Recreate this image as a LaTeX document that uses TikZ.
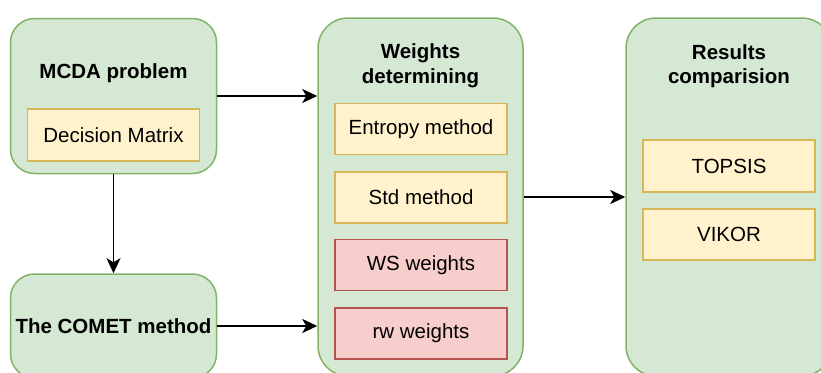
\documentclass[tikz,border=0pt]{standalone}
\usepackage{fontspec}
\setmainfont{Liberation Sans}
\usetikzlibrary{arrows.meta}
\definecolor{gfill}{HTML}{D5E8D4}
\definecolor{gline}{HTML}{82B366}
\definecolor{yfill}{HTML}{FFF2CC}
\definecolor{yline}{HTML}{D6B656}
\definecolor{rfill}{HTML}{F8CECC}
\definecolor{rline}{HTML}{B85450}
\tikzset{
  group/.style={draw=gline, fill=gfill, line width=1.5pt, rounded corners=#1, inner sep=0pt},
  item/.style={draw=yline, fill=yfill, line width=1.5pt, minimum width=172pt, minimum height=51pt, inner sep=0pt, font=\fontsize{20.5}{24.6}\selectfont},
  ritem/.style={item, draw=rline, fill=rfill},
  ttl/.style={font=\fontsize{20.5}{24.6}\selectfont\bfseries, align=center, inner sep=0pt},
  conn/.style={line width=1.7pt, -{Stealth[length=15pt,width=14pt,inset=4pt]}}
}
\begin{document}
\begin{tikzpicture}[x=1pt,y=-1pt]
\useasboundingbox (0,0) rectangle (821,372);
\clip (0,0) rectangle (821,372);
% groups
\node[group=24pt, minimum width=206pt, minimum height=155pt] (mcda) at (113.5,96) {};
\node[group=24pt, minimum width=206pt, minimum height=104pt] (comet) at (113.5,326) {};
\node[group=30pt, minimum width=205pt, minimum height=358pt] (weights) at (420.5,197) {};
\node[group=30pt, minimum width=206pt, minimum height=358pt] (results) at (729,197) {};
% titles
\node[ttl] (mcdat) at (113.5,73) {MCDA problem};
\node[ttl] (comett) at (113.5,326) {The COMET method};
\node[ttl] (weightst) at (420.5,66) {Weights\\determining};
\node[ttl] (resultst) at (729,66) {Results\\comparision};
% items
\node[item, minimum height=52pt] (dm) at (113.5,135) {Decision Matrix};
\node[item] (entropy) at (421,129) {Entropy method};
\node[item] (std) at (421,197.5) {Std method};
\node[ritem] (ws) at (421,265) {WS weights};
\node[ritem] (rw) at (421,333.5) {rw weights};
\node[item, minimum height=52pt] (topsis) at (729,166) {TOPSIS};
\node[item] (vikor) at (729,234.5) {VIKOR};
% connectors
\draw[conn] (mcda.east) -- (mcda.east -| weights.west);
\draw[conn] (mcda.south) -- (comet.north);
\draw[conn] (comet.east) -- (comet.east -| weights.west);
\draw[conn] (weights.east) -- (results.west);
\end{tikzpicture}
\end{document}
